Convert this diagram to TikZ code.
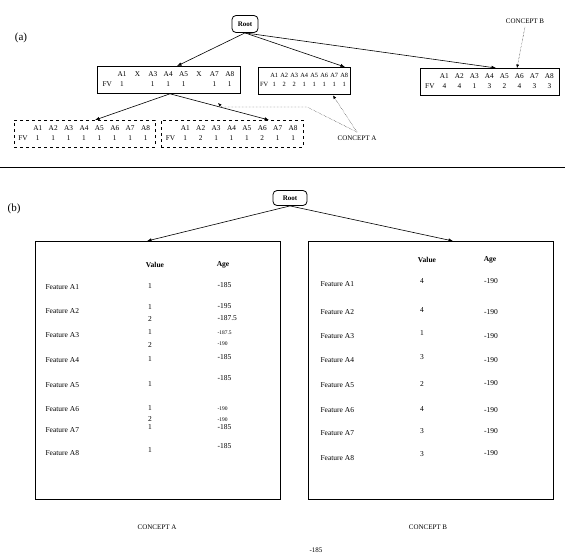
\documentclass[tikz,border=0pt]{standalone}
\usepackage{fontspec}
\setmainfont{Liberation Serif}
\usepackage{array}
\usetikzlibrary{arrows.meta,calc}
\newcolumntype{C}[1]{>{\centering\arraybackslash}p{#1}}
\setlength{\tabcolsep}{0pt}
% two rows of a feature vector box
\newcommand{\fvrows}[4]{\begin{tabular}{@{}C{#1}*{8}{C{#2}}@{}}#3\\[2.5pt]#4\end{tabular}}
\begin{document}
\begin{tikzpicture}[x=1pt, y=-1pt,
  lbl/.style={font=\fontsize{11}{13}\selectfont},
  rootbox/.style={draw, thick, rounded corners=4pt, inner sep=1pt, font=\fontsize{7}{8}\selectfont\bfseries},
  fvbox/.style={draw, anchor=north west, inner sep=1pt, minimum height=27, font=\fontsize{7.3}{8}\selectfont},
  conbox/.style={draw, semithick, anchor=north west, minimum width=245, minimum height=258},
  captext/.style={font=\fontsize{7}{8}\selectfont},
  cell/.style={font=\fontsize{7.5}{8}\selectfont},
  head/.style={font=\fontsize{7.5}{8}\selectfont\bfseries},
  tiny/.style={font=\fontsize{5.5}{6}\selectfont},
  tree/.style={semithick, -{Latex[length=4.5pt,width=3.5pt]}},
  note/.style={densely dotted, -{Latex[length=3.5pt,width=3pt]}}]
\useasboundingbox (0,0) rectangle (565,555);

% (a) hierarchy of feature vectors
\node[lbl] (laba) at (21,38) {(a)};
\node[rootbox, minimum width=26, minimum height=17] (roota) at (245,24) {Root};
\node[fvbox, thick, minimum width=143] (box1) at (97,66)
  {\fvrows{14pt}{15.4pt}{& A1 & X & A3 & A4 & A5 & X & A7 & A8}{FV & 1 & & 1 & 1 & 1 & & 1 & 1}};
\node[fvbox, minimum width=92, font=\fontsize{6.4}{7}\selectfont] (box2) at (258,67)
  {\fvrows{10pt}{10pt}{& A1 & A2 & A3 & A4 & A5 & A6 & A7 & A8}{FV & 1 & 2 & 2 & 1 & 1 & 1 & 1 & 1}};
\node[fvbox, thick, minimum width=139] (box3) at (420,68)
  {\fvrows{14pt}{15pt}{& A1 & A2 & A3 & A4 & A5 & A6 & A7 & A8}{FV & 4 & 4 & 1 & 3 & 2 & 4 & 3 & 3}};
\node[fvbox, dashed, minimum width=141] (bl) at (14,120)
  {\fvrows{14pt}{15.4pt}{& A1 & A2 & A3 & A4 & A5 & A6 & A7 & A8}{FV & 1 & 1 & 1 & 1 & 1 & 1 & 1 & 1}};
\node[fvbox, dashed, minimum width=142] (br) at (161,120)
  {\fvrows{14pt}{15.4pt}{& A1 & A2 & A3 & A4 & A5 & A6 & A7 & A8}{FV & 1 & 2 & 1 & 1 & 1 & 2 & 1 & 1}};
\node[captext] (cona) at (357,138) {CONCEPT A};
\node[captext] (conb) at (525,21) {CONCEPT B};

\draw[tree] (roota.south) -- ($(box1.north west)+(80,0)$);
\draw[tree] (roota.south) -- ($(box2.north west)+(87,0)$);
\draw[tree] (roota.south) -- ($(box3.north west)+(76,0)$);
\draw[tree] ($(box1.south west)+(73,0)$) -- ($(bl.north west)+(81,0)$);
\draw[tree] ($(box1.south west)+(73,0)$) -- ($(br.north west)+(108,0)$);

\coordinate (knee) at (307,107);
\coordinate (kneeb) at (222,107);
\coordinate (tipa) at (218,103);
\draw[note] (cona.north) -- (knee) -- (kneeb) -- (tipa);
\draw[note] (cona.north) -- ($(box2.south west)+(75,1)$);
\draw[note] (conb.south) -- ($(box3.north west)+(97,0)$);

\draw[thick] (0,167) -- (565,167);

% (b) concept tables
\node[lbl] (labb) at (14,209) {(b)};
\node[rootbox, minimum width=34, minimum height=15] (rootb) at (290,198) {Root};
\node[conbox] (ca) at (35,241) {};
\node[conbox] (cb) at (308,241) {};
\draw[tree] (rootb.south) -- ($(ca.north west)+(112,0)$);
\draw[tree] (rootb.south) -- ($(cb.north west)+(145,0)$);

\node[head] (hva) at (155,265) {Value};
\node[head] (hga) at (223,265) {Age};
\foreach \i/\y in {1/287,2/311,3/335,4/360,5/385,6/409,7/430,8/453}
  \node[cell, anchor=west] (fa\i) at (42,\y) {Feature A\i};
\foreach \n/\y/\t in {1/286/1,2/307/1,2b/319/2,3/332/1,3b/345/2,4/359/1,5/384/1,6/408/1,6b/419/2,7/427/1,8/450/1}
  \node[cell] (va\n) at (150,\y) {\t};
\foreach \n/\y/\t in {1/285/-185,2/306/-195,2b/318/-187.5,4/357/-185,5/378/-185,7/427/-185,8/446/-185}
  \node[cell, anchor=west] (aa\n) at (214,\y) {\t};
\foreach \n/\y/\t in {3/333/-187.5,3b/344/-190,6/409/-190,6b/420/-190}
  \node[tiny, anchor=west] (aa\n) at (214,\y) {\t};

\node[head] (hvb) at (427,260) {Value};
\node[head] (hgb) at (490,260) {Age};
\foreach \i/\y in {1/284,2/312,3/336,4/360,5/385,6/410,7/433,8/458}
  \node[cell, anchor=west] (fb\i) at (317,\y) {Feature A\i};
\foreach \i/\y/\t in {1/281/4,2/310/4,3/333/1,4/357/3,5/384/2,6/409/4,7/431/3,8/454/3}
  \node[cell] (vb\i) at (422,\y) {\t};
\foreach \i/\y in {1/281,2/312,3/336,4/360,5/383,6/410,7/431,8/453}
  \node[cell] (ab\i) at (491,\y) {-190};

\node[captext] (capa) at (157,527) {CONCEPT A};
\node[captext] (capb) at (428,527) {CONCEPT B};
\node[captext] (page) at (316,550) {-185};
\end{tikzpicture}
\end{document}
